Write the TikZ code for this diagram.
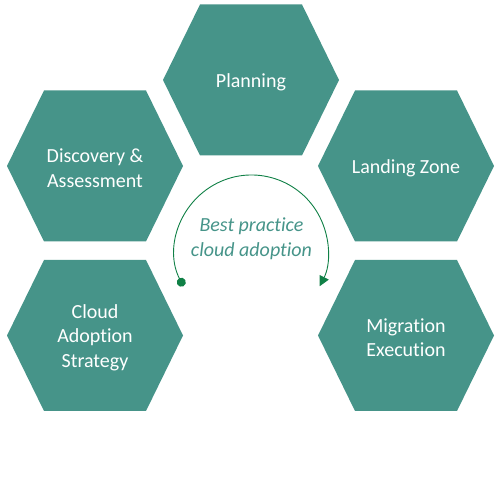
\documentclass[tikz,border=0pt]{standalone}
\usepackage{fontspec}
\setmainfont{Carlito}[Ligatures=NoCommon]
\usetikzlibrary{arrows.meta,calc}
\definecolor{hexfill}{RGB}{70,148,137}
\definecolor{arcgreen}{RGB}{16,128,70}
\definecolor{midtext}{RGB}{70,148,137}
\tikzset{
  hexlabel/.style={text=white, align=center, font=\fontsize{20}{24.5}\selectfont, inner sep=0pt},
  hexshape/.style={fill=hexfill, draw=none},
  midlabel/.style={text=midtext, align=center, font=\fontsize{20}{25}\selectfont\itshape, inner sep=0pt},
  cycarc/.style={draw=arcgreen, line width=0.9pt, {Circle[length=9pt]}-{Triangle[length=10pt,width=10pt]}}
}
\newcommand{\hexpath}[2]{%
  \path[hexshape] (#1-88,#2) -- (#1-51,#2+75.5) -- (#1+51,#2+75.5) -- (#1+88,#2) -- (#1+51,#2-75.5) -- (#1-51,#2-75.5) -- cycle;}
\begin{document}
\begin{tikzpicture}[x=1pt,y=1pt]
\useasboundingbox (0,0) rectangle (500,500);
\hexpath{251}{420}
\hexpath{95}{334}
\hexpath{406}{334}
\hexpath{95}{164.5}
\hexpath{406}{164.5}
\node[hexlabel] (plan) at (251,418) {Planning};
\node[hexlabel] (disc) at (95,332) {Discovery \&\\Assessment};
\node[hexlabel] (land) at (406,332) {Landing Zone};
\node[hexlabel] (cloud) at (95,162.5) {Cloud\\Adoption\\Strategy};
\node[hexlabel] (mig) at (406,162.5) {Migration\\Execution};
\node[midlabel] (mid) at (251.5,261) {Best practice\\cloud adoption};
\coordinate (arcC) at (251.5,248.5);
\coordinate (arcS) at ($(arcC)+(207:76.5)$);
\draw[cycarc] (arcS) arc[start angle=207, end angle=-27, radius=76.5];
\end{tikzpicture}
\end{document}
